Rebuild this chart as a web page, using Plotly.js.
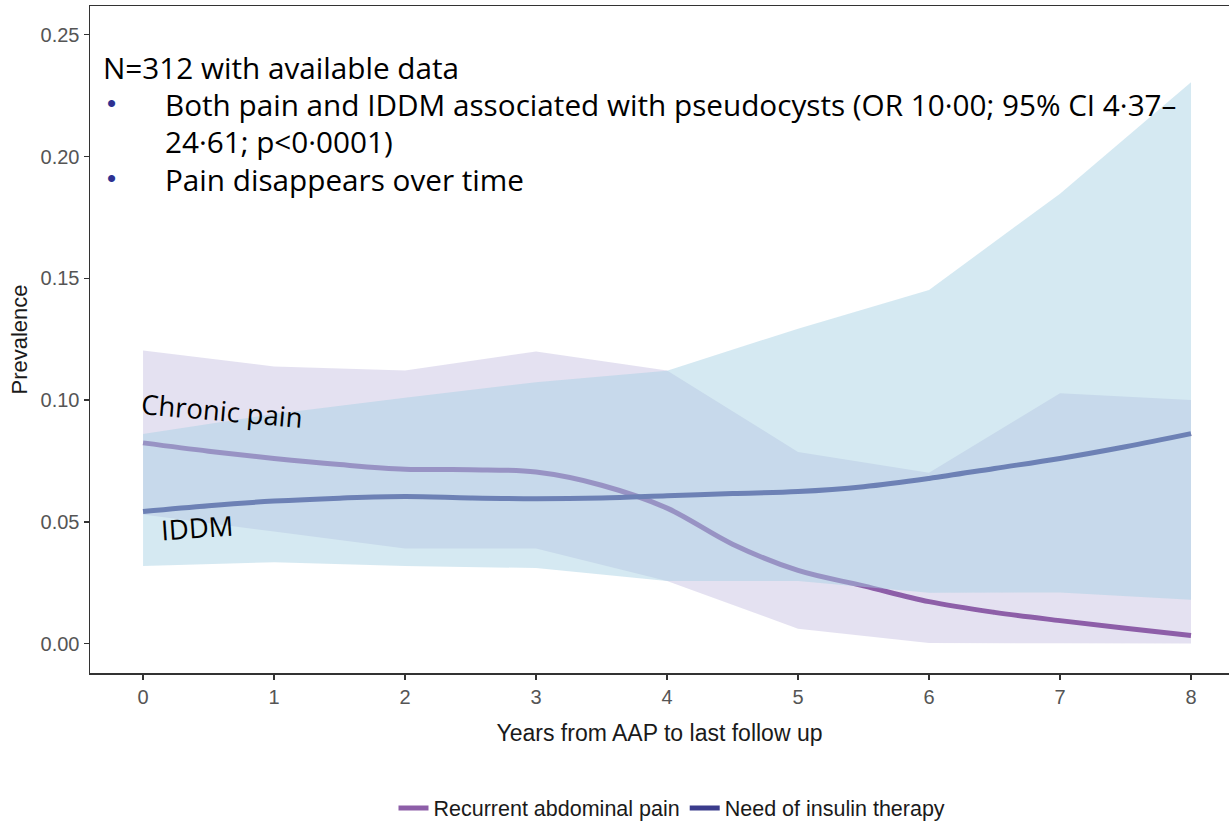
<!DOCTYPE html>
<html>
<head>
<meta charset="utf-8">
<script src="https://cdn.plot.ly/plotly-3.0.1.min.js"></script>
<style>html,body{margin:0;padding:0;background:#fff;}#chart{width:1229px;height:829px;}</style>
</head>
<body>
<div id="chart"></div>
<script>
// Smoothed prevalence curves
const lineYears = [0, 0.5, 1, 1.5, 2, 2.5, 3, 3.5, 4, 4.5, 5, 5.5, 6, 6.5, 7, 7.5, 8];
const painPrev  = [0.0824, 0.0790, 0.0760, 0.0735, 0.0716, 0.0714, 0.0704, 0.0650, 0.0556, 0.0408, 0.0300, 0.0237, 0.0172, 0.0128, 0.0094, 0.0063, 0.0033];
const iddmPrev  = [0.0542, 0.0566, 0.0585, 0.0597, 0.0604, 0.0598, 0.0595, 0.0598, 0.0607, 0.0616, 0.0624, 0.0644, 0.0678, 0.0719, 0.0760, 0.0808, 0.0862];

// Confidence bands at whole years
const bandYears = [0, 1, 2, 3, 4, 5, 6, 7, 8];
const painUpper = [0.1203, 0.1138, 0.1121, 0.1199, 0.1121, 0.0787, 0.0701, 0.1028, 0.1000];
const painLower = [0.0530, 0.0460, 0.0390, 0.0390, 0.0257, 0.0061, 0.0002, 0.0001, 0.0000];
const iddmUpper = [0.0860, 0.0943, 0.1009, 0.1073, 0.1120, 0.1293, 0.1452, 0.1847, 0.2305];
const iddmLower = [0.0318, 0.0334, 0.0318, 0.0310, 0.0257, 0.0257, 0.0209, 0.0210, 0.0180];

// Tick labels
const xTicks = [0, 1, 2, 3, 4, 5, 6, 7, 8];
const yTicks = [0.00, 0.05, 0.10, 0.15, 0.20, 0.25];
const yTickText = ["0.00", "0.05", "0.10", "0.15", "0.20", "0.25"];

const seriesNames = ["Recurrent abdominal pain", "Need of insulin therapy"];

function band(xs, lo, hi) {
  return { x: xs.concat(xs.slice().reverse()), y: hi.concat(lo.slice().reverse()) };
}
const pb = band(bandYears, painLower, painUpper);
const ib = band(bandYears, iddmLower, iddmUpper);

const traces = [
  { x: pb.x, y: pb.y, type: 'scatter', mode: 'lines', fill: 'toself',
    fillcolor: 'rgba(147,135,199,0.25)', line: { width: 0 }, hoverinfo: 'skip', showlegend: false },
  { x: lineYears, y: painPrev, type: 'scatter', mode: 'lines', name: seriesNames[0],
    line: { color: '#8d5ea8', width: 5, shape: 'spline', smoothing: 1 } },
  { x: lineYears, y: iddmPrev, type: 'scatter', mode: 'lines', name: seriesNames[1],
    line: { color: '#3b3c8c', width: 5, shape: 'spline', smoothing: 1 } },
  { x: ib.x, y: ib.y, type: 'scatter', mode: 'lines', fill: 'toself',
    fillcolor: 'rgba(165,208,227,0.47)', line: { width: 0 }, hoverinfo: 'skip', showlegend: false }
];

const W = 1139, H = 672, L = 90, T = 6;
function px(x) { return (x - L) / W; }
function py(y) { return (T + H - y) / H; }

const fam = 'Open Sans, Liberation Sans, sans-serif';
const txtFont = { family: fam, size: 29.7, color: '#000' };
const bullet = { family: 'Liberation Sans, sans-serif', size: 26, color: '#2e3192' };

const annotations = [
  { text: 'N=312 with available data', x: px(102), y: py(68), xanchor: 'left', yanchor: 'middle', font: txtFont },
  { text: '•', x: px(111), y: py(104), xanchor: 'center', yanchor: 'middle', font: bullet },
  { text: 'Both pain and IDDM associated with pseudocysts (OR 10·00; 95% CI 4·37–', x: px(164), y: py(105), xanchor: 'left', yanchor: 'middle', font: txtFont },
  { text: '24·61; p<0·0001)', x: px(164), y: py(143), xanchor: 'left', yanchor: 'middle', font: txtFont },
  { text: '•', x: px(111), y: py(179), xanchor: 'center', yanchor: 'middle', font: bullet },
  { text: 'Pain disappears over time', x: px(164), y: py(181), xanchor: 'left', yanchor: 'middle', font: txtFont },
  { text: 'Chronic pain', x: px(222), y: py(414), xanchor: 'center', yanchor: 'middle', textangle: 5,
    font: { family: fam, size: 27.5, color: '#000' } },
  { text: 'IDDM', x: px(197), y: py(531), xanchor: 'center', yanchor: 'middle', textangle: -4,
    font: { family: fam, size: 27.5, color: '#000' } }
].map(a => Object.assign({ xref: 'paper', yref: 'paper', showarrow: false, borderpad: 0 }, a));

const sans = 'Liberation Sans, Arial, sans-serif';

const layout = {
  width: 1229, height: 829,
  margin: { l: L, r: 0, t: T, b: 829 - T - H, pad: 0 },
  paper_bgcolor: '#fff', plot_bgcolor: '#fff',
  showlegend: true,
  legend: { orientation: 'h', x: px(672), xanchor: 'center', y: py(814), yanchor: 'middle',
    font: { family: sans, size: 21.5, color: '#1a1a1a' }, itemwidth: 30, tracegroupgap: 0 },
  xaxis: {
    range: [-0.405, 8.29], tickvals: xTicks, ticktext: xTicks.map(String),
    showgrid: false, zeroline: false, showline: true, linecolor: '#333', linewidth: 1.5, mirror: true,
    ticks: 'outside', ticklen: 5, tickwidth: 1.5, tickcolor: '#333',
    tickfont: { family: sans, size: 20, color: '#555' },
    title: { text: 'Years from AAP to last follow up', standoff: 18,
      font: { family: sans, size: 23, color: '#1a1a1a' } },
    automargin: false
  },
  yaxis: {
    range: [-0.0121, 0.2618], tickvals: yTicks, ticktext: yTickText,
    showgrid: false, zeroline: false, showline: true, linecolor: '#333', linewidth: 1.5,
    ticks: 'outside', ticklen: 5, tickwidth: 1.5, tickcolor: '#333',
    tickfont: { family: sans, size: 20, color: '#555' },
    title: { text: 'Prevalence', standoff: 7,
      font: { family: sans, size: 22, color: '#1a1a1a' } },
    automargin: false
  },
  annotations: annotations
};

Plotly.newPlot('chart', traces, layout, { displayModeBar: false, staticPlot: true });
</script>
</body>
</html>
